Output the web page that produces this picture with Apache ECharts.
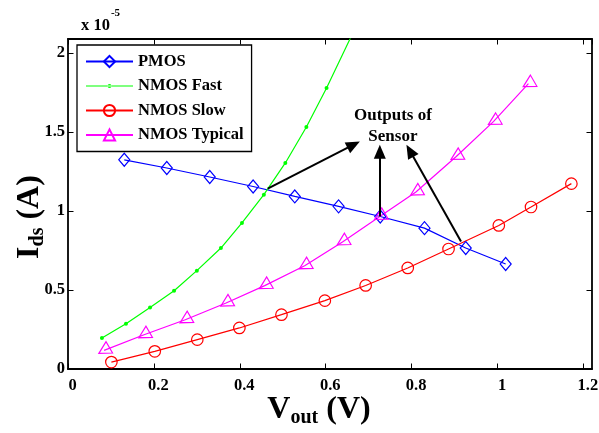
<!DOCTYPE html>
<html>
<head>
<meta charset="utf-8">
<script src="https://cdn.jsdelivr.net/npm/echarts@6/dist/echarts.min.js"></script>
<style>
  html, body { margin: 0; padding: 0; background: #fff; }
  #chart { width: 599px; height: 433px; }
</style>
</head>
<body>
<div id="chart"></div>
<script>
// Output voltage Vout (V) and drain current Ids (in units of 1e-5 A) per corner
const pmosV = [0.131, 0.230, 0.330, 0.431, 0.528, 0.630, 0.727, 0.830, 0.926, 1.019];
const pmosI = [1.325, 1.273, 1.216, 1.156, 1.093, 1.030, 0.966, 0.892, 0.766, 0.665];

const fastV = [0.079, 0.135, 0.191, 0.247, 0.300, 0.356, 0.405, 0.456, 0.506, 0.555, 0.602, 0.660];
const fastI = [0.196, 0.287, 0.390, 0.496, 0.623, 0.766, 0.925, 1.104, 1.305, 1.533, 1.780, 2.110];

const slowV = [0.101, 0.202, 0.301, 0.399, 0.497, 0.598, 0.693, 0.791, 0.886, 1.003, 1.078, 1.172];
const slowI = [0.044, 0.112, 0.186, 0.260, 0.344, 0.433, 0.529, 0.640, 0.760, 0.909, 1.026, 1.174];

const typV = [0.084, 0.177, 0.273, 0.368, 0.458, 0.551, 0.639, 0.726, 0.810, 0.904, 0.991, 1.072];
const typI = [0.118, 0.217, 0.312, 0.418, 0.528, 0.654, 0.805, 0.966, 1.121, 1.346, 1.568, 1.807];

const seriesNames = ['PMOS', 'NMOS Fast', 'NMOS Slow', 'NMOS Typical'];

// Axis ranges and tick steps
const xRange = [0, 1.22];
const xStep = 0.2;
const yRange = [0, 2.09];
const yStep = 0.5;

// "Outputs of Sensor" callout: arrow tails at curve crossings, heads near the text
const arrowTails = [[0.465, 1.142], [0.726, 0.966], [0.915, 0.808]];
const arrowHeads = [[0.665, 1.421], [0.726, 1.376], [0.796, 1.382]];
const calloutText = 'Outputs of\nSensor';
const calloutAt = [0.7565, 1.54];

const serif = '"Liberation Serif", "Times New Roman", serif';
const pair = (xs, ys) => xs.map((x, i) => [x, ys[i]]);
const none = 'rgba(255,255,255,0)';

const chart = echarts.init(document.getElementById('chart'), null, { renderer: 'canvas' });

const axisLineStyle = { color: '#000', width: 1.8 };
const tickStyle = { show: true, inside: true, length: 5.5, lineStyle: { color: '#000', width: 1 } };
const tickLabel = { fontFamily: serif, fontWeight: 'bold', fontSize: 16.5, color: '#000' };

const nameRich = {
  m: { fontFamily: serif, fontWeight: 'bold', fontSize: 32, color: '#000', lineHeight: 36 },
  s: { fontFamily: serif, fontWeight: 'bold', fontSize: 20, color: '#000', lineHeight: 22, verticalAlign: 'bottom' }
};

// Legend icon for the fast corner: thin line with a small dot in the middle
const smallDotIcon = 'path://M0,1.4h47v1.2h-47z M21.5,2a2,2 0 1,0 4,0a2,2 0 1,0 -4,0z';

function lineSeries(name, xs, ys, color, symbol, size, hollow, extra) {
  return Object.assign({
    name: name,
    type: 'line',
    data: pair(xs, ys),
    symbol: symbol,
    symbolSize: size,
    showAllSymbol: true,
    clip: true,
    lineStyle: { color: color, width: 1.2 },
    itemStyle: hollow
      ? { color: none, borderColor: color, borderWidth: 1.2 }
      : { color: color, borderColor: color, borderWidth: 0 },
    emphasis: { disabled: true },
    z: 3
  }, extra || {});
}

const option = {
  animation: false,
  backgroundColor: '#fff',
  title: {
    left: 76,
    top: 3,
    text: '{a|x 10}{b|-5}',
    textStyle: {
      rich: {
        a: { fontFamily: serif, fontWeight: 'bold', fontSize: 16.5, color: '#000', lineHeight: 26, verticalAlign: 'bottom' },
        b: { fontFamily: serif, fontWeight: 'bold', fontSize: 11, color: '#000', lineHeight: 13, verticalAlign: 'top', padding: [0, 0, 0, 1] }
      }
    }
  },
  grid: { left: 68, top: 39, right: 7, bottom: 64, containLabel: false, outerBoundsMode: 'none' },
  legend: {
    orient: 'vertical',
    left: 77,
    top: 45,
    itemWidth: 47,
    itemHeight: 14,
    itemGap: 7.5,
    padding: [8, 8, 8, 8],
    borderColor: '#000',
    borderWidth: 1.3,
    backgroundColor: '#fff',
    symbolRotate: 0,
    textStyle: { fontFamily: serif, fontWeight: 'bold', fontSize: 16.5, color: '#000' },
    data: [
      { name: seriesNames[0] },
      { name: seriesNames[1], icon: smallDotIcon, itemStyle: { color: '#00ff00', borderWidth: 0 } },
      { name: seriesNames[2] },
      { name: seriesNames[3] }
    ]
  },
  xAxis: [
    {
      type: 'value', position: 'bottom',
      min: xRange[0], max: xRange[1], interval: xStep,
      axisLine: { show: true, onZero: false, lineStyle: axisLineStyle },
      axisTick: tickStyle,
      splitLine: { show: false },
      axisLabel: Object.assign({ margin: 8, showMaxLabel: false, padding: [0, 0, 0, 9] }, tickLabel),
      name: '{m|V}{s|out}{m| (V)}',
      nameLocation: 'middle',
      nameGap: 23,
      nameMoveOverlap: false,
      nameTextStyle: { rich: nameRich, padding: [0, 22, 0, 0] }
    },
    {
      type: 'value', position: 'top',
      min: xRange[0], max: xRange[1], interval: xStep,
      axisLine: { show: true, onZero: false, lineStyle: axisLineStyle },
      axisTick: tickStyle,
      splitLine: { show: false },
      axisLabel: { show: false }
    }
  ],
  yAxis: [
    {
      type: 'value', position: 'left',
      min: yRange[0], max: yRange[1], interval: yStep,
      axisLine: { show: true, onZero: false, lineStyle: axisLineStyle },
      axisTick: tickStyle,
      splitLine: { show: false },
      axisLabel: Object.assign({ margin: 3, showMaxLabel: false }, tickLabel),
      name: '{m|I}{s|ds}{m| (A)}',
      nameLocation: 'middle',
      nameGap: 20,
      nameMoveOverlap: false,
      nameTextStyle: { rich: nameRich, padding: [0, 26, 0, 0] }
    },
    {
      type: 'value', position: 'right',
      min: yRange[0], max: yRange[1], interval: yStep,
      axisLine: { show: true, onZero: false, lineStyle: axisLineStyle },
      axisTick: tickStyle,
      splitLine: { show: false },
      axisLabel: { show: false }
    }
  ],
  series: [
    lineSeries(seriesNames[0], pmosV, pmosI, '#0000ff', 'diamond', [11, 13], true, {
      markLine: {
        silent: true,
        symbol: ['none', 'triangle'],
        symbolSize: [12, 14],
        lineStyle: { color: '#000', width: 2, type: 'solid' },
        itemStyle: { color: '#000' },
        label: { show: false },
        emphasis: { disabled: true },
        data: arrowTails.map((t, i) => [{ coord: t }, { coord: arrowHeads[i] }])
      },
      markPoint: {
        silent: true,
        symbol: 'circle',
        symbolSize: 0,
        label: {
          show: true, position: 'inside', formatter: calloutText,
          fontFamily: serif, fontWeight: 'bold', fontSize: 17, lineHeight: 21, color: '#000', align: 'center'
        },
        data: [{ coord: calloutAt }]
      }
    }),
    lineSeries(seriesNames[1], fastV, fastI, '#00ff00', 'circle', 4, false),
    lineSeries(seriesNames[2], slowV, slowI, '#ff0000', 'circle', 11.5, true),
    lineSeries(seriesNames[3], typV, typI, '#ff00ff', 'triangle', [13, 12], true, { symbolRotate: 120 })
  ]
};

chart.setOption(option);
</script>
</body>
</html>
